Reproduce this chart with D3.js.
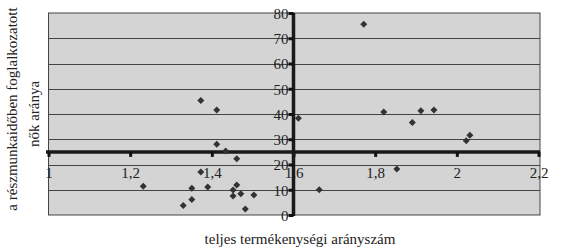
<!DOCTYPE html>
<html>
<head>
<meta charset="utf-8">
<script src="https://cdn.jsdelivr.net/npm/d3@7"></script>
<style>
    body { margin: 0; background: #fff; }
    svg text { font-family: "Liberation Serif", Tinos, "Times New Roman", Times, "DejaVu Serif", serif !important; fill: #222; }
</style>
</head>
<body>
<script>
// teljes termékenységi arányszám (x) és részmunkaidős nők aránya (y)
let fertility = [1.373, 1.412, 1.412, 1.434, 1.461, 1.373, 1.232, 1.351, 1.390, 1.461,
    1.452, 1.471, 1.452, 1.503, 1.351, 1.330, 1.482, 1.772, 1.612, 1.821,
    1.912, 1.944, 1.891, 2.032, 2.023, 1.853, 1.663]
let partTime = [45.3, 41.6, 28.0, 25.3, 22.3, 17.0, 11.4, 10.6, 11.1, 11.9,
    9.9, 8.4, 7.5, 7.9, 6.1, 3.8, 2.4, 75.5, 38.3, 40.8,
    41.3, 41.6, 36.6, 31.6, 29.4, 18.2, 10.0]
let xTicks = [1, 1.2, 1.4, 1.6, 1.8, 2, 2.2]
let yTicks = [0, 10, 20, 30, 40, 50, 60, 70, 80]
let xTitle = "teljes termékenységi arányszám"
let yTitle = ["a részmunkaidőben foglalkozatott", "nők aránya"]

let points = fertility.map((f, i) => ({ x: f, y: partTime[i] }))

let w = 580
let h = 252
let svg = d3.select("body").append("svg")
    .attr("width", w)
    .attr("height", h)

let x = d3.scaleLinear().domain([1, 2.2]).range([48.5, 538.5])
let y = d3.scaleLinear().domain([0, 80]).range([215, 13])

// plot area
svg.append("rect")
    .attr("x", 48.5)
    .attr("y", y(80))
    .attr("width", 540 - 48.5)
    .attr("height", y(0) - y(80))
    .style("fill", "#d4d4d4")
    .style("stroke", "#444")
    .style("stroke-width", 1)

svg.append("g").selectAll("line")
    .data(yTicks.slice(1, -1))
    .enter()
    .append("line")
        .attr("x1", 48.5)
        .attr("x2", 540)
        .attr("y1", d => Math.round(y(d)) + 0.5)
        .attr("y2", d => Math.round(y(d)) + 0.5)
        .style("stroke", "#444")
        .style("stroke-width", 1)

let fmt = d => String(d).replace(".", ",")

// x tengely y=25-nél
let xAxis = svg.append("g")
    .attr("transform", `translate(0,${y(25)})`)
    .call(d3.axisBottom(x).tickValues(xTicks).tickFormat(fmt).tickSize(5).tickSizeOuter(0))
xAxis.select(".domain")
    .attr("d", `M46,0H540`)
    .style("stroke", "#1a1a1a")
    .style("stroke-width", 3.5)
xAxis.selectAll(".tick line")
    .style("stroke", "#111")
    .style("stroke-width", 3)
xAxis.selectAll(".tick text")
    .attr("y", 0)
    .attr("dy", 0)
    .attr("transform", `translate(0,${178 - y(25)})`)
    .style("font-size", "15px")

// y tengely x=1,6-nál
let yAxis = svg.append("g")
    .attr("transform", `translate(${x(1.6)},0)`)
    .call(d3.axisLeft(y).tickValues(yTicks).tickSize(5).tickSizeOuter(0))
yAxis.select(".domain")
    .attr("d", `M0,${y(80)}V${y(0) + 1}`)
    .style("stroke", "#1a1a1a")
    .style("stroke-width", 3.5)
yAxis.selectAll(".tick line")
    .style("stroke", "#111")
    .style("stroke-width", 3)
yAxis.selectAll(".tick text")
    .attr("x", -5)
    .attr("dy", "0.35em")
    .style("font-size", "15px")

// pontok
let diamond = "M0,-3.5L3.5,0L0,3.5L-3.5,0Z"
svg.append("g").selectAll("path")
    .data(points)
    .enter()
    .append("path")
        .attr("d", diamond)
        .attr("transform", d => `translate(${x(d.x)},${y(d.y)})`)
        .style("fill", "#333")

// tengelycímek
svg.append("text")
    .text(xTitle)
    .attr("x", 300)
    .attr("y", 244)
    .attr("text-anchor", "middle")
    .style("font-size", "15px")

svg.append("text")
    .text(yTitle[0])
    .attr("transform", "translate(17,109) rotate(-90)")
    .attr("text-anchor", "middle")
    .style("font-size", "15px")
svg.append("text")
    .text(yTitle[1])
    .attr("transform", "translate(39,114) rotate(-90)")
    .attr("text-anchor", "middle")
    .style("font-size", "15px")
</script>
</body>
</html>
